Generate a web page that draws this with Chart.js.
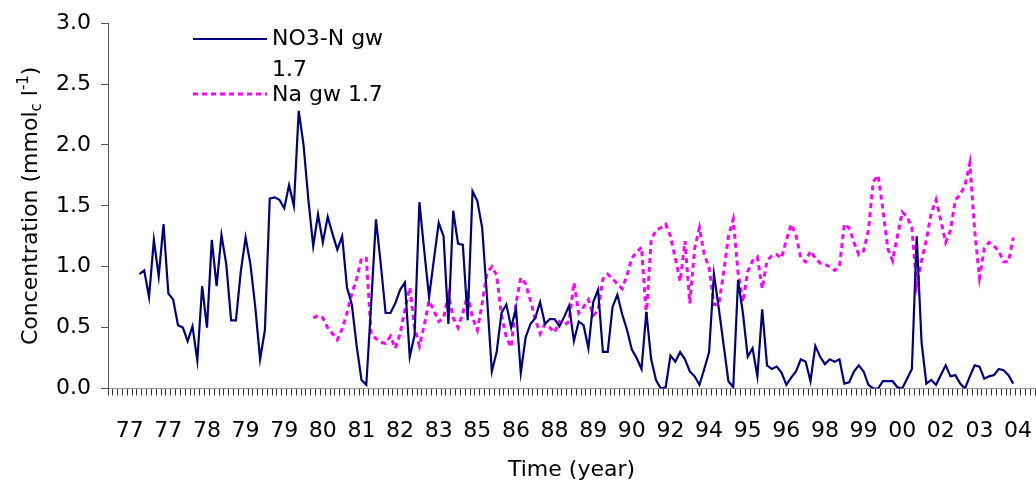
<!DOCTYPE html>
<html lang="en">
<head>
<meta charset="UTF-8">
<title>NO3-N and Na in groundwater</title>
<script src="https://cdn.jsdelivr.net/npm/chart.js"></script>
<style>
    body { margin: 0; background: #fff; }
    #wrap { width: 1036px; height: 493px; position: relative; }
</style>
</head>
<body>
<div id="wrap"><canvas id="chart"></canvas></div>
<script>
// one label every 8 samples along the time axis
const yearLabels = ['77','77','78','79','79','80','81','82','83','85','86','88',
                    '89','90','92','94','95','96','98','99','00','02','03','04'];
const categories = yearLabels.flatMap(y => Array(8).fill(y));

// NO3-N gw 1.7 (mmolc/l)
const no3 = [
    null, null, null, null, null, null, 0.94, 0.97, 0.75, 1.22,
    0.92, 1.35, 0.78, 0.73, 0.52, 0.50, 0.39, 0.51, 0.23, 0.84,
    0.50, 1.22, 0.84, 1.26, 1.02, 0.56, 0.56, 0.96, 1.24, 1.02,
    0.67, 0.24, 0.48, 1.56, 1.57, 1.55, 1.48, 1.67, 1.50, 2.28,
    2.00, 1.55, 1.17, 1.43, 1.20, 1.41, 1.27, 1.14, 1.25, 0.83,
    0.69, 0.35, 0.07, 0.03, 0.69, 1.39, 1.02, 0.62, 0.62, 0.70,
    0.81, 0.87, 0.26, 0.44, 1.53, 1.13, 0.75, 1.06, 1.36, 1.25,
    0.53, 1.46, 1.19, 1.18, 0.56, 1.62, 1.54, 1.32, 0.75, 0.14,
    0.30, 0.62, 0.69, 0.50, 0.66, 0.13, 0.42, 0.53, 0.58, 0.71,
    0.53, 0.57, 0.57, 0.51, 0.59, 0.68, 0.39, 0.55, 0.52, 0.33,
    0.71, 0.81, 0.30, 0.30, 0.67, 0.77, 0.61, 0.48, 0.32, 0.25,
    0.16, 0.63, 0.24, 0.07, 0.00, 0.01, 0.27, 0.22, 0.30, 0.24,
    0.14, 0.10, 0.03, 0.16, 0.30, 0.94, 0.66, 0.36, 0.06, 0.01,
    0.89, 0.62, 0.26, 0.33, 0.10, 0.65, 0.19, 0.16, 0.18, 0.13,
    0.03, 0.09, 0.14, 0.24, 0.22, 0.06, 0.35, 0.26, 0.20, 0.24,
    0.22, 0.24, 0.04, 0.05, 0.14, 0.19, 0.14, 0.03, 0.00, 0.00,
    0.06, 0.06, 0.06, 0.01, 0.00, 0.08, 0.16, 1.25, 0.38, 0.04,
    0.07, 0.03, 0.11, 0.19, 0.10, 0.11, 0.04, 0.00, 0.10, 0.19,
    0.18, 0.08, 0.10, 0.11, 0.16, 0.15, 0.11, 0.04, null, null,
    null, null
];

// Na gw 1.7 (mmolc/l)
const na = [
    null, null, null, null, null, null, null, null, null, null,
    null, null, null, null, null, null, null, null, null, null,
    null, null, null, null, null, null, null, null, null, null,
    null, null, null, null, null, null, null, null, null, null,
    null, null, 0.58, 0.60, 0.58, 0.50, 0.45, 0.40, 0.49, 0.62,
    0.78, 0.90, 1.07, 1.07, 0.45, 0.41, 0.38, 0.37, 0.43, 0.33,
    0.45, 0.65, 0.83, 0.50, 0.35, 0.52, 0.72, 0.64, 0.55, 0.58,
    0.77, 0.58, 0.50, 0.62, 0.77, 0.58, 0.48, 0.70, 0.95, 1.00,
    0.93, 0.60, 0.42, 0.34, 0.70, 0.91, 0.86, 0.72, 0.57, 0.45,
    0.53, 0.50, 0.46, 0.55, 0.52, 0.55, 0.87, 0.62, 0.67, 0.73,
    0.60, 0.64, 0.90, 0.94, 0.90, 0.86, 0.82, 0.93, 1.07, 1.12,
    1.16, 0.60, 1.22, 1.30, 1.32, 1.35, 1.25, 1.07, 0.88, 1.21,
    0.70, 1.15, 1.32, 1.10, 0.99, 0.69, 0.69, 0.95, 1.25, 1.39,
    0.95, 0.71, 0.96, 1.05, 1.08, 0.82, 1.05, 1.09, 1.10, 1.07,
    1.22, 1.35, 1.26, 1.07, 1.04, 1.13, 1.07, 1.03, 1.02, 1.00,
    0.97, 1.00, 1.35, 1.32, 1.20, 1.10, 1.13, 1.30, 1.70, 1.75,
    1.47, 1.15, 1.05, 1.25, 1.45, 1.41, 1.32, 0.85, 1.05, 1.22,
    1.44, 1.55, 1.38, 1.20, 1.30, 1.55, 1.59, 1.67, 1.85, 1.30,
    0.91, 1.15, 1.20, 1.17, 1.13, 1.04, 1.04, 1.24, null, null,
    null, null
];

const FONT = 'DejaVu Sans';
Chart.defaults.font.family = FONT;
Chart.defaults.font.size = 22;
Chart.defaults.color = '#000';

// legend drawn inside the plot, top left, with the wrapped label
const insideLegend = {
    id: 'insideLegend',
    afterDraw(chart) {
        const ctx = chart.ctx;
        const ds = chart.data.datasets;
        ctx.save();
        ctx.font = '22px "' + FONT + '"';
        ctx.fillStyle = '#000';
        ctx.textBaseline = 'alphabetic';

        ctx.strokeStyle = ds[0].borderColor;
        ctx.lineWidth = ds[0].borderWidth;
        ctx.beginPath(); ctx.moveTo(193, 39); ctx.lineTo(267, 39); ctx.stroke();
        ctx.fillText('NO3-N gw', 272, 45);
        ctx.fillText('1.7', 272, 76);

        ctx.strokeStyle = ds[1].borderColor;
        ctx.lineWidth = ds[1].borderWidth;
        ctx.setLineDash(ds[1].borderDash);
        ctx.beginPath(); ctx.moveTo(193, 94); ctx.lineTo(267, 94); ctx.stroke();
        ctx.fillText('Na gw 1.7', 272, 101);
        ctx.restore();
    }
};

// y title with subscript c and superscript -1
const yTitle = {
    id: 'yTitle',
    afterDraw(chart) {
        const ctx = chart.ctx;
        const a = chart.chartArea;
        const parts = [
            { t: 'Concentration (mmol', s: 22, dy: 0 },
            { t: 'c', s: 15, dy: 4 },
            { t: ' l', s: 22, dy: 0 },
            { t: '-1', s: 15, dy: -9 },
            { t: ')', s: 22, dy: 0 }
        ];
        ctx.save();
        let total = 0;
        parts.forEach(p => {
            ctx.font = p.s + 'px "' + FONT + '"';
            p.w = ctx.measureText(p.t).width;
            total += p.w;
        });
        ctx.translate(37, (a.top + a.bottom) / 2);
        ctx.rotate(-Math.PI / 2);
        ctx.fillStyle = '#000';
        ctx.textBaseline = 'alphabetic';
        let x = -total / 2;
        parts.forEach(p => {
            ctx.font = p.s + 'px "' + FONT + '"';
            ctx.fillText(p.t, x, p.dy);
            x += p.w;
        });
        ctx.restore();
    }
};

new Chart(document.getElementById('chart'), {
    type: 'line',
    data: {
        labels: categories,
        datasets: [
            {
                label: 'NO3-N gw 1.7',
                data: no3,
                borderColor: '#000080',
                borderWidth: 2.2,
                pointRadius: 0,
                tension: 0,
                spanGaps: false
            },
            {
                label: 'Na gw 1.7',
                data: na,
                borderColor: '#ff00ff',
                borderWidth: 3,
                borderDash: [5, 4],
                borderCapStyle: 'butt',
                pointRadius: 0,
                tension: 0,
                spanGaps: false
            }
        ]
    },
    options: {
        responsive: true,
        maintainAspectRatio: false,
        animation: false,
        layout: { padding: { top: 20.5, right: 1, left: 0, bottom: 0 } },
        plugins: {
            legend: { display: false },
            tooltip: { enabled: false }
        },
        scales: {
            x: {
                type: 'category',
                offset: true,
                grid: {
                    display: true,
                    drawOnChartArea: false,
                    drawTicks: true,
                    tickLength: 7,
                    offset: true,
                    color: '#333'
                },
                border: { display: true, color: '#999' },
                ticks: {
                    autoSkip: false,
                    maxRotation: 0,
                    minRotation: 0,
                    padding: 23,
                    font: { size: 22 },
                    callback: (v, i) => (i % 8 === 4 ? categories[i] : '')
                },
                title: {
                    display: true,
                    text: 'Time (year)',
                    font: { size: 22 },
                    padding: { top: 0, bottom: 10 }
                },
                afterFit: s => {
                    s.height = 104.5;
                    s.paddingLeft = 0;
                    s.paddingRight = 0;
                }
            },
            y: {
                min: 0,
                max: 3,
                grid: {
                    display: true,
                    drawOnChartArea: false,
                    drawTicks: true,
                    tickLength: 7,
                    color: '#555'
                },
                border: { display: true, color: '#555' },
                ticks: {
                    stepSize: 0.5,
                    padding: 10,
                    font: { size: 22 },
                    callback: v => v.toFixed(1)
                },
                afterFit: s => { s.width = 108; }
            }
        }
    },
    plugins: [insideLegend, yTitle]
});
</script>
</body>
</html>
